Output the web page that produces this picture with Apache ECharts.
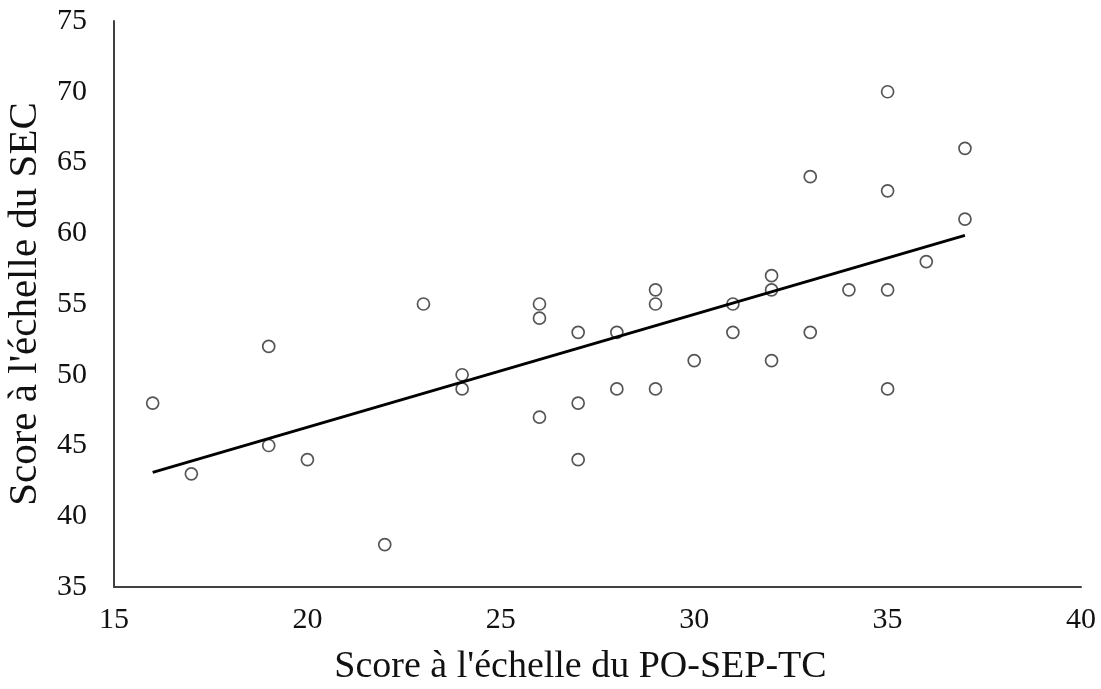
<!DOCTYPE html>
<html>
<head>
<meta charset="utf-8">
<script src="https://cdn.jsdelivr.net/npm/echarts@6/dist/echarts.min.js"></script>
<style>
html,body{margin:0;padding:0;background:#fff;}
#chart{width:1101px;height:689px;}
</style>
</head>
<body>
<div id="chart"></div>
<script>
// Data
var xValues = [16,17,19,19,20,22,23,24,24,26,26,26,27,27,27,28,28,29,29,29,30,31,31,32,32,32,33,33,34,35,35,35,35,36,37,37];
var yValues = [48,43,52,45,44,38,55,50,49,55,54,47,53,48,44,53,49,56,55,49,51,55,53,57,56,51,64,53,56,70,63,56,49,58,66,61];
var trendX = [16, 37];
var trendY = [43.1, 59.85];
var xTitle = "Score à l'échelle du PO-SEP-TC";
var yTitle = "Score à l'échelle du SEC";

var points = xValues.map(function(x, i){ return [x, yValues[i]]; });
var trend = trendX.map(function(x, i){ return [x, trendY[i]]; });

var FONT = "'Liberation Serif', 'Times New Roman', serif";
var chart = echarts.init(document.getElementById('chart'), null, {renderer:'canvas'});
chart.setOption({
  backgroundColor: '#ffffff',
  animation: false,
  grid: { left: 114, right: 20, top: 21, bottom: 102, outerBoundsMode: 'none', containLabel: false },
  xAxis: {
    type: 'value', min: 15, max: 40, interval: 5,
    name: xTitle, nameLocation: 'middle', nameGap: 61,
    nameTextStyle: { fontFamily: FONT, fontSize: 38, color: '#111', padding: [0, 34, 0, 0] },
    axisLine: { show: true, lineStyle: { color: '#404040', width: 2 } },
    axisTick: { show: false },
    splitLine: { show: false },
    axisLabel: { fontFamily: FONT, fontSize: 30, color: '#111', margin: 18 }
  },
  yAxis: {
    type: 'value', min: 35, max: 75, interval: 5,
    name: yTitle, nameLocation: 'middle', nameGap: 68,
    nameTextStyle: { fontFamily: FONT, fontSize: 41, color: '#111' },
    axisLine: { show: true, lineStyle: { color: '#404040', width: 2 } },
    axisTick: { show: false },
    splitLine: { show: false },
    axisLabel: { fontFamily: FONT, fontSize: 30, color: '#111', margin: 27 }
  },
  series: [
    {
      type: 'line', data: trend, symbol: 'none', silent: true,
      lineStyle: { color: '#000', width: 3 }, z: 3
    },
    {
      type: 'scatter', data: points, symbol: 'circle', symbolSize: 12,
      itemStyle: { color: 'rgba(255,255,255,0)', borderColor: '#2a2a2a', borderWidth: 1.7 }, z: 2
    }
  ]
});
</script>
</body>
</html>
